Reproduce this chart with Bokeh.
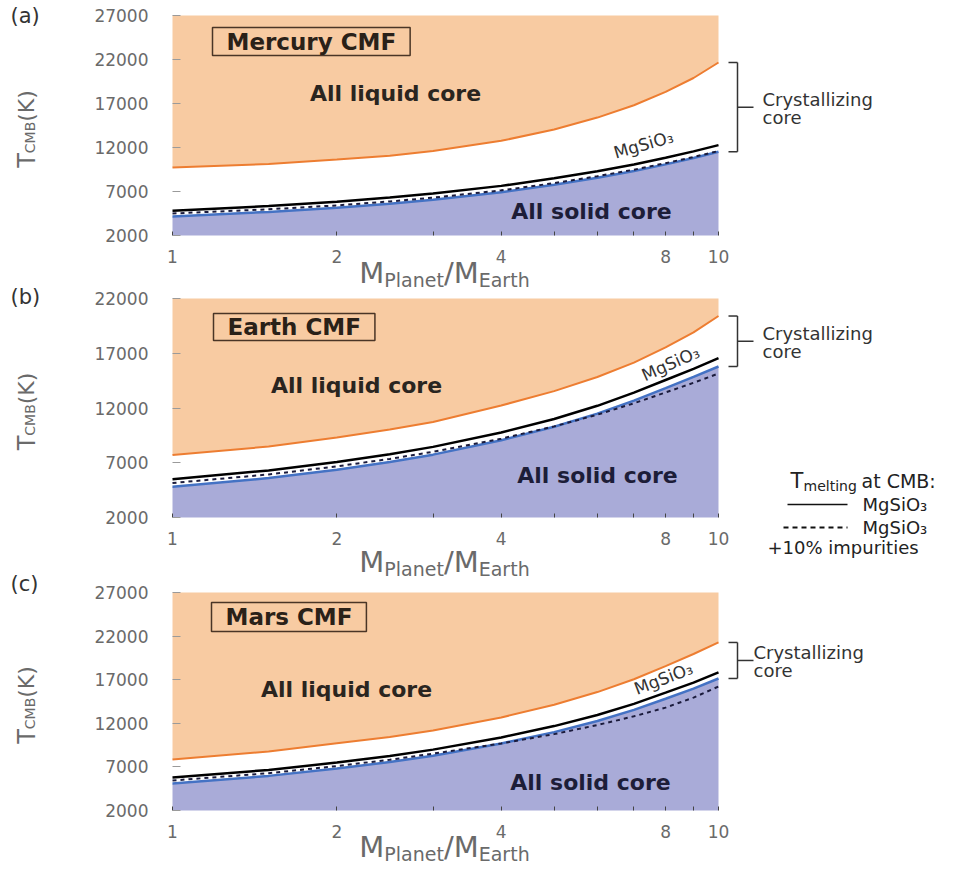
import math
from bokeh.plotting import figure
from bokeh.models import (Range1d, FixedTicker, Label, Arrow, BoxAnnotation,
                          NumeralTickFormatter, LogAxis, LinearAxis)
from bokeh.embed import file_html
from bokeh.resources import INLINE

# ---------------- data ----------------
mass = [1, 1.5, 2, 2.5, 3, 4, 5, 6, 7, 8, 9, 10]
x_ticks = [1, 2, 4, 8, 10]
x_minor = [3, 5, 6, 7, 9]
y_ticks_27 = [2000, 7000, 12000, 17000, 22000, 27000]
y_ticks_22 = [2000, 7000, 12000, 17000, 22000]

# (a) Mercury CMF
liquid_a = [9730, 10120, 10640, 11070, 11600, 12760, 14040, 15400, 16800, 18330, 19900, 21660]
mgsio3_a = [4800, 5340, 5830, 6320, 6760, 7640, 8500, 9300, 10070, 10830, 11560, 12270]
solid_a = [4160, 4680, 5150, 5620, 6060, 6920, 7760, 8560, 9320, 10080, 10800, 11510]
impure_a = [4500, 4980, 5420, 5870, 6300, 7130, 7950, 8740, 9480, 10220, 10920, 11600]

# (b) Earth CMF
liquid_b = [7700, 8480, 9300, 10030, 10730, 12230, 13540, 14830, 16150, 17530, 18900, 20400]
mgsio3_b = [5500, 6300, 7070, 7770, 8450, 9760, 11000, 12200, 13400, 14560, 15580, 16550]
solid_b = [4800, 5600, 6360, 7060, 7740, 9060, 10290, 11490, 12680, 13820, 14850, 15790]
impure_b = [5150, 5930, 6670, 7350, 8000, 9200, 10320, 11390, 12430, 13420, 14300, 15150]

# (c) Mars CMF
liquid_c = [7850, 8760, 9700, 10420, 11180, 12670, 14120, 15580, 17050, 18560, 19950, 21270]
mgsio3_c = [5780, 6650, 7500, 8240, 8980, 10380, 11680, 12960, 14230, 15510, 16660, 17830]
solid_c = [5100, 5970, 6810, 7550, 8290, 9690, 10990, 12270, 13540, 14820, 15970, 17140]
impure_c = [5440, 6280, 7100, 7820, 8520, 9690, 10760, 11800, 12800, 13800, 14950, 16220]

# ---------------- styling / layout ----------------
FONT = "DejaVu Sans"
PEACH = "#F8CBA2"
LAV = "#A9ABD8"
ORANGE = "#ED7D31"
BLUE = "#4472C4"
GREY = "#6a6a6a"
DARK = "#2b2b2b"
W, H = 948, 868
PLOT_L = 172      # page x of M = 1
PLOT_W = 546      # px from M = 1 to M = 10

ADV = {"T": .611, "C": .698, "M": .863, "B": .686, " ": .318, "(": .390, ")": .390,
       "K": .656, "P": .603, "l": .278, "a": .613, "n": .634, "e": .615, "t": .392,
       "/": .337, "E": .632, "r": .411, "h": .634, "m": .974, "i": .278, "g": .635,
       ":": .337}
BADV = {"M": .995, "e": .678, "r": .493, "c": .593, "u": .712, "y": .652, " ": .348,
        "C": .734, "F": .683, "E": .683, "a": .675, "t": .478, "h": .712, "s": .595}


def tw(s, size, bold=False):
    table = BADV if bold else ADV
    return sum(table.get(ch, .62) for ch in s) * size


def mx(px):
    """mass value located at page x = px"""
    return 10 ** ((px - PLOT_L) / PLOT_W)


def yrange(top, bot, ytop):
    k = (ytop - 2000) / (bot - top)
    return Range1d(2000 - (H - bot) * k, ytop + top * k)


geo = {
    "default": dict(tag="(a)", name="Mercury CMF", ytop=27000, yticks=y_ticks_27,
                    data=(liquid_a, mgsio3_a, solid_a, impure_a),
                    top=15, bot=235, tag_y=15, box=(212, 27, 55), liquid=(395, 93),
                    solid=(591, 211), mg=(643, 144, 16), cryst=762, xt_y=272),
    "b": dict(tag="(b)", name="Earth CMF", ytop=22000, yticks=y_ticks_22,
              data=(liquid_b, mgsio3_b, solid_b, impure_b),
              top=298, bot=517, tag_y=296, box=(213, 313, 340), liquid=(356, 385),
              solid=(597, 475), mg=(670, 363, 24), cryst=762, xt_y=561),
    "c": dict(tag="(c)", name="Mars CMF", ytop=27000, yticks=y_ticks_27,
              data=(liquid_c, mgsio3_c, solid_c, impure_c),
              top=592, bot=810, tag_y=583, box=(211, 602, 631), liquid=(346, 689),
              solid=(590, 782), mg=(663, 678, 21), cryst=753, xt_y=846),
}

ranges = {k: yrange(g["top"], g["bot"], g["ytop"]) for k, g in geo.items()}

p = figure(width=W, height=H, x_axis_type="log", x_range=Range1d(mx(0), mx(W)),
           y_range=ranges["default"], x_axis_location=None, y_axis_location=None,
           output_backend="svg", toolbar_location=None, min_border=0)
p.extra_y_ranges = {"b": ranges["b"], "c": ranges["c"]}
p.outline_line_color = None
p.xgrid.visible = False
p.ygrid.visible = False
p.background_fill_color = "white"
p.border_fill_color = "white"


def sy(py):
    return H - py


def text(t, px, py, size, bold=False, color=DARK, align="center", angle=0.0):
    p.add_layout(Label(x=px, y=sy(py), x_units="screen", y_units="screen", text=t,
                       text_font=FONT, text_font_size=f"{size}px",
                       text_font_style="bold" if bold else "normal",
                       text_color=color, text_align=align, text_baseline="middle",
                       angle=angle))


def seg(x0, y0, x1, y1, rn="default", screen=False, color="#333333", width=1.5,
        dash="solid"):
    units = "screen" if screen else "data"
    if screen:
        y0, y1 = sy(y0), sy(y1)
    p.add_layout(Arrow(end=None, start=None, x_start=x0, y_start=y0, x_end=x1, y_end=y1,
                       start_units=units, end_units=units, y_range_name=rn,
                       line_color=color, line_width=width, line_dash=dash))


for rn, g in geo.items():
    liq, mg, sol, imp = g["data"]
    ytop = g["ytop"]
    p.varea(x=mass, y1=liq, y2=ytop, fill_color=PEACH, y_range_name=rn)
    p.varea(x=mass, y1=2000, y2=sol, fill_color=LAV, y_range_name=rn)
    p.line(mass, sol, line_color=BLUE, line_width=2.5, y_range_name=rn)
    p.line(mass, imp, line_color="#1b1b3c", line_width=2, line_dash="4 4", y_range_name=rn)
    p.line(mass, mg, line_color="black", line_width=2.5, y_range_name=rn)
    p.line(mass, liq, line_color=ORANGE, line_width=2, y_range_name=rn)

    # axes pinned to the panel's data region
    xa = LogAxis(y_range_name=rn, fixed_location=2000,
                 ticker=FixedTicker(ticks=x_ticks, minor_ticks=x_minor),
                 formatter=NumeralTickFormatter(format="0"),
                 axis_line_color=None, major_tick_in=4, major_tick_out=0,
                 minor_tick_in=4, minor_tick_out=0,
                 major_tick_line_color="#444444", minor_tick_line_color="#444444",
                 major_label_standoff=14, major_label_text_font=FONT,
                 major_label_text_font_size="17px", major_label_text_color=GREY)
    p.add_layout(xa, "below")
    ya = LinearAxis(y_range_name=rn, fixed_location=1,
                    ticker=FixedTicker(ticks=g["yticks"]),
                    axis_line_color=None, major_tick_in=8, major_tick_out=0,
                    major_tick_line_color="#9a9a9a", minor_tick_line_color=None,
                    major_label_standoff=24, major_label_text_font=FONT,
                    major_label_text_font_size="17px", major_label_text_color=GREY)
    p.add_layout(ya, "left")

    # panel tag
    text(g["tag"], 10, g["tag_y"], 21, color="#333333", align="left")

    # CMF box
    bw = tw(g["name"], 23, bold=True) + 28
    bx0, by0, by1 = g["box"]
    p.add_layout(BoxAnnotation(left=bx0, right=bx0 + bw, bottom=sy(by1), top=sy(by0),
                               left_units="screen", right_units="screen",
                               bottom_units="screen", top_units="screen",
                               fill_color=None, fill_alpha=0, line_color="#4a3526",
                               line_alpha=1, line_width=1.5))
    text(g["name"], bx0 + bw / 2, (by0 + by1) / 2, 23, bold=True, color="#2a2118")

    # region names
    text("All liquid core", *g["liquid"], 22, bold=True, color="#2a2520")
    text("All solid core", *g["solid"], 22, bold=True, color="#1d1d38")
    text("MgSiO₃", g["mg"][0], g["mg"][1], 17, color="#333333",
         angle=math.radians(g["mg"][2]))

    # crystallizing-core bracket at M = 10
    yt, yb = liq[-1], sol[-1]
    ym = (yt + yb) / 2
    seg(mx(728), yt, mx(737), yt, rn)
    seg(mx(737), yt, mx(737), yb, rn)
    seg(mx(728), yb, mx(737), yb, rn)
    seg(mx(737), ym, mx(753), ym, rn)
    for t, off in (("Crystallizing", 8), ("core", -10)):
        p.add_layout(Label(x=mx(g["cryst"]), y=ym, y_range_name=rn, text=t, text_font=FONT,
                           text_font_size="18px", text_color="#333333",
                           text_align="left", text_baseline="middle", y_offset=off))

    # y-axis title  T_CMB (K), rotated
    wT, wS, wK = tw("T", 24), tw("CMB", 14), tw(" (K)", 22)
    y0 = (g["top"] + g["bot"]) / 2 + (wT + wS + wK) / 2
    text("T", 26, y0, 24, color=GREY, align="left", angle=math.pi / 2)
    text("CMB", 29, y0 - wT, 14, color=GREY, align="left", angle=math.pi / 2)
    text(" (K)", 26, y0 - wT - wS, 22, color=GREY, align="left", angle=math.pi / 2)

    # x-axis title  M_Planet / M_Earth
    big, small = 29, 19
    parts = [("M", big, 0), ("Planet", small, 7), ("/M", big, 0), ("Earth", small, 7)]
    total = sum(tw(t, s) for t, s, _ in parts)
    x = 444 - total / 2
    for t, s, dy in parts:
        text(t, x, g["xt_y"] + dy, s, color=GREY, align="left")
        x += tw(t, s)

# legend for the melting curves (right of panel b)
text("T", 790, 480, 21, color="#222222", align="left")
text("melting", 803, 485, 14, color="#222222", align="left")
text("at CMB:", 861, 480, 19, color="#222222", align="left")
seg(787, 504, 847, 504, screen=True, color="#111111", width=1.5)
text("MgSiO₃", 862, 504, 18, color="#222222", align="left")
seg(783, 527, 847, 527, screen=True, color="#111111", width=2, dash="5 4")
text("MgSiO₃", 862, 527, 18, color="#222222", align="left")
text("+10% impurities", 767, 547, 18, color="#222222", align="left")

open("out.html", "w").write(file_html(p, INLINE))
